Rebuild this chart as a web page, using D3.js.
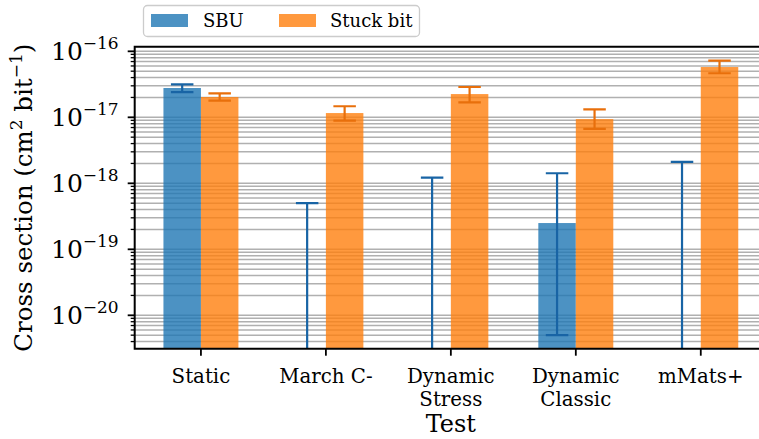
<!DOCTYPE html>
<html><head><meta charset="utf-8">
<script src="https://cdn.jsdelivr.net/npm/d3@7"></script>
<style>body{margin:0;background:#fff}svg{display:block}</style>
</head><body><svg id="c" width="759" height="439"></svg>
<script>
// ---- data ----
const categories = ["Static", "March C-", "Dynamic Stress", "Dynamic Classic", "mMats+"];
const categoryLines = [["Static"], ["March C-"], ["Dynamic", "Stress"], ["Dynamic", "Classic"], ["mMats+"]];
const seriesNames = ["SBU", "Stuck bit"];
const sbuValues = [2.78e-17, 0, 0, 2.5e-19, 0];
const sbuLower  = [2.41e-17, 0, 0, 5.0e-21, 0];
const sbuUpper  = [3.16e-17, 5.0e-19, 1.22e-18, 1.42e-18, 2.12e-18];
const stuckValues = [2.03e-17, 1.16e-17, 2.25e-17, 9.4e-18, 5.78e-17];
const stuckLower  = [1.79e-17, 8.9e-18, 1.69e-17, 6.7e-18, 4.65e-17];
const stuckUpper  = [2.31e-17, 1.47e-17, 2.88e-17, 1.32e-17, 7.21e-17];
const yTickExponents = [-20, -19, -18, -17, -16];
const xLabel = "Test";

(function () {
// ---- layout ----
const pL = 134.7, pR = 767, pT = 46.7, pB = 348.7;
const FONT = "'DejaVu Serif', serif";
const barColors = ["#1f77b4", "#ff7f0e"];
const errColors = ["#1864a5", "#e86f0b"];

const svg = d3.select("#c");
const x = d3.scaleLinear().domain([-0.53, 4.53]).range([pL, pR]);
const y = d3.scaleLog().domain([Math.pow(10, -20.506), Math.pow(10, -15.93)]).range([pB, pT]);
const yv = v => v > 0 ? y(v) : pB + 20;
const barW = 0.3;

svg.append("defs").append("clipPath").attr("id", "clip")
  .append("rect").attr("x", pL).attr("y", pT).attr("width", pR - pL).attr("height", pB - pT);

const plot = svg.append("g").attr("clip-path", "url(#clip)");

// grid (major + minor)
const gridVals = [];
for (let e = -21; e <= -16; e++) for (let m = 1; m <= 9; m++) {
  const v = m * Math.pow(10, e);
  if (v >= y.domain()[0] && v <= y.domain()[1]) gridVals.push(v);
}
plot.append("g").selectAll("line").data(gridVals).join("line")
  .attr("x1", pL).attr("x2", pR)
  .attr("y1", d => y(d)).attr("y2", d => y(d))
  .attr("stroke", "#b0b0b0").attr("stroke-width", 1.5);

// bars
const series = [
  {vals: sbuValues, lo: sbuLower, hi: sbuUpper, off: -barW / 2},
  {vals: stuckValues, lo: stuckLower, hi: stuckUpper, off: barW / 2}
];
series.forEach((s, si) => {
  plot.append("g").selectAll("rect").data(s.vals.map((v, i) => ({v, i})).filter(d => d.v > 0)).join("rect")
    .attr("x", d => x(d.i + s.off - barW / 2))
    .attr("width", d => x(d.i + s.off + barW / 2) - x(d.i + s.off - barW / 2))
    .attr("y", d => y(d.v))
    .attr("height", d => pB + 5 - y(d.v))
    .attr("fill", barColors[si]).attr("fill-opacity", 0.8);
});
series.forEach((s, si) => {
  const g = plot.append("g").attr("stroke", errColors[si]).attr("stroke-width", 2.2);
  const data = s.vals.map((v, i) => ({i, lo: s.lo[i], hi: s.hi[i]}));
  const cx = d => x(d.i + s.off);
  const capHalf = (x(0.09) - x(0));
  g.selectAll(".v").data(data).join("line").attr("class", "v")
    .attr("x1", cx).attr("x2", cx)
    .attr("y1", d => yv(d.lo)).attr("y2", d => yv(d.hi));
  g.selectAll(".ct").data(data).join("line").attr("class", "ct")
    .attr("x1", d => cx(d) - capHalf).attr("x2", d => cx(d) + capHalf)
    .attr("y1", d => yv(d.hi)).attr("y2", d => yv(d.hi));
  g.selectAll(".cb").data(data.filter(d => d.lo > 0)).join("line").attr("class", "cb")
    .attr("x1", d => cx(d) - capHalf).attr("x2", d => cx(d) + capHalf)
    .attr("y1", d => yv(d.lo)).attr("y2", d => yv(d.lo));
});

// y axis ticks
const yAxisG = svg.append("g");
const minorVals = gridVals.filter(v => !yTickExponents.some(e => Math.abs(Math.log10(v) - e) < 1e-9));
yAxisG.selectAll(".mn").data(minorVals).join("line").attr("class", "mn")
  .attr("x1", pL - 4).attr("x2", pL).attr("y1", d => y(d)).attr("y2", d => y(d))
  .attr("stroke", "#000").attr("stroke-width", 1.3);
const majorVals = yTickExponents.map(e => Math.pow(10, e));
yAxisG.selectAll(".mj").data(majorVals).join("line").attr("class", "mj")
  .attr("x1", pL - 7).attr("x2", pL).attr("y1", d => y(d)).attr("y2", d => y(d))
  .attr("stroke", "#000").attr("stroke-width", 1.8);
const yl = yAxisG.selectAll(".lab").data(yTickExponents).join("text").attr("class", "lab")
  .attr("x", pL - 16).attr("y", d => y(Math.pow(10, d)) + 9)
  .attr("text-anchor", "end").attr("font-family", FONT).attr("font-size", 25).attr("fill", "#000");
yl.append("tspan").text("10");
yl.append("tspan").attr("dy", -11).attr("font-size", 17).text(d => "\u2212" + Math.abs(d));

// x axis
const xAxisG = svg.append("g");
xAxisG.selectAll("line").data(categories.map((c, i) => i)).join("line")
  .attr("x1", d => x(d)).attr("x2", d => x(d)).attr("y1", pB).attr("y2", pB + 7)
  .attr("stroke", "#000").attr("stroke-width", 1.8);
const xt = xAxisG.selectAll("text").data(categoryLines.map((l, i) => ({l, i}))).join("text")
  .attr("text-anchor", "middle").attr("font-family", FONT).attr("font-size", 19.8).attr("fill", "#000");
xt.selectAll("tspan").data(d => d.l.map(t => ({t, i: d.i}))).join("tspan")
  .attr("x", d => x(d.i)).attr("y", (d, k) => 383 + k * 22.5).text(d => d.t);

// spines
svg.append("path")
  .attr("d", `M${pL},${pT}H${pR}V${pB}H${pL}Z`)
  .attr("fill", "none").attr("stroke", "#000").attr("stroke-width", 2);

// axis labels
svg.append("text").attr("x", x(2)).attr("y", 432).attr("text-anchor", "middle")
  .attr("font-family", FONT).attr("font-size", 24).text(xLabel);
const ylab = svg.append("text")
  .attr("transform", `translate(32,${(pT + pB) / 2}) rotate(-90)`)
  .attr("text-anchor", "middle").attr("font-family", FONT).attr("font-size", 24.5);
ylab.append("tspan").text("Cross section (cm");
ylab.append("tspan").attr("dy", -10).attr("font-size", 17).text("2");
ylab.append("tspan").attr("dy", 10).text(" bit");
ylab.append("tspan").attr("dy", -10).attr("font-size", 17).text("\u22121");
ylab.append("tspan").attr("dy", 10).text(")");

// legend
const lg = svg.append("g");
lg.append("rect").attr("x", 143.5).attr("y", 5.5).attr("width", 276).attr("height", 31).attr("rx", 4)
  .attr("fill", "#fff").attr("fill-opacity", 0.8).attr("stroke", "#cccccc").attr("stroke-width", 1.3);
const legX = [151, 279], legTX = [203, 330];
seriesNames.forEach((n, i) => {
  lg.append("rect").attr("x", legX[i]).attr("y", 14).attr("width", 37).attr("height", 13)
    .attr("fill", barColors[i]).attr("fill-opacity", 0.8);
  lg.append("text").attr("x", legTX[i]).attr("y", 27).attr("font-family", FONT).attr("font-size", 18).text(n);
});
})();
</script></body></html>
